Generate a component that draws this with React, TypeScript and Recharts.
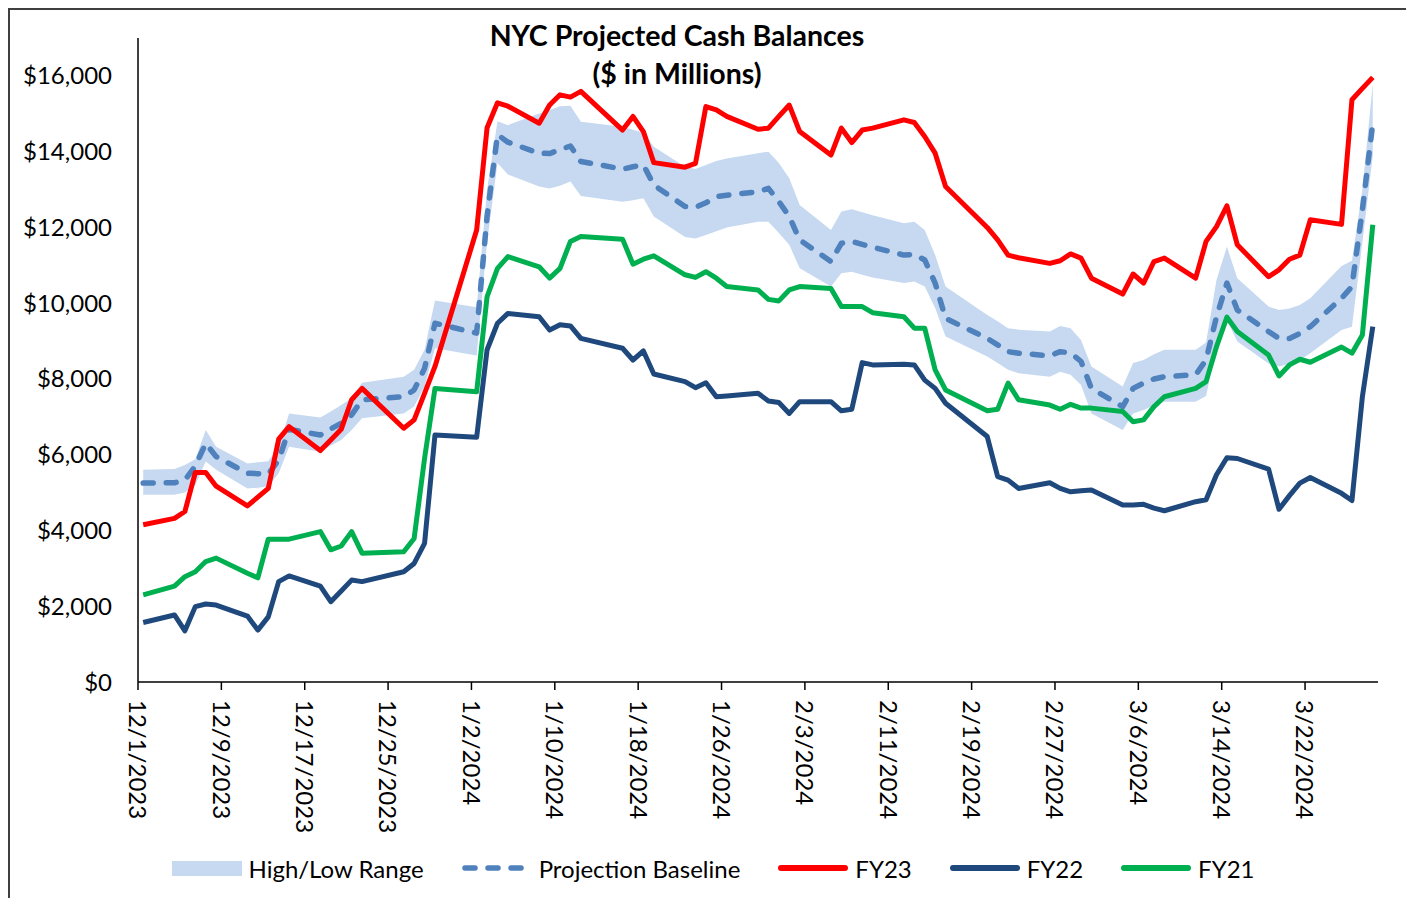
import React from 'react';
import { ComposedChart, Area, Line, XAxis, YAxis } from 'recharts';

// business days, 12/1/2023 - 3/28/2024
const dates = [
  '12/1/2023', '12/4/2023', '12/5/2023', '12/6/2023', '12/7/2023', '12/8/2023', '12/11/2023', '12/12/2023', '12/13/2023', '12/14/2023',
  '12/15/2023', '12/18/2023', '12/19/2023', '12/20/2023', '12/21/2023', '12/22/2023', '12/26/2023', '12/27/2023', '12/28/2023', '12/29/2023',
  '1/2/2024', '1/3/2024', '1/4/2024', '1/5/2024', '1/8/2024', '1/9/2024', '1/10/2024', '1/11/2024', '1/12/2024', '1/16/2024',
  '1/17/2024', '1/18/2024', '1/19/2024', '1/22/2024', '1/23/2024', '1/24/2024', '1/25/2024', '1/26/2024', '1/29/2024', '1/30/2024', '1/31/2024',
  '2/1/2024', '2/2/2024', '2/5/2024', '2/6/2024', '2/7/2024', '2/8/2024', '2/9/2024', '2/12/2024', '2/13/2024', '2/14/2024',
  '2/15/2024', '2/16/2024', '2/20/2024', '2/21/2024', '2/22/2024', '2/23/2024', '2/26/2024', '2/27/2024', '2/28/2024', '2/29/2024',
  '3/1/2024', '3/4/2024', '3/5/2024', '3/6/2024', '3/7/2024', '3/8/2024', '3/11/2024', '3/12/2024', '3/13/2024', '3/14/2024',
  '3/15/2024', '3/18/2024', '3/19/2024', '3/20/2024', '3/21/2024', '3/22/2024', '3/25/2024', '3/26/2024', '3/27/2024', '3/28/2024',
];

const fy23 = [
  4150, 4320, 4500, 5530, 5530, 5170, 4650, 4880, 5110, 6410, 6740, 6110, 6390, 6670, 7450, 7750, 6700, 6920, 7620, 8330,
  11930, 14630, 15290, 15200, 14750, 15230, 15500, 15440, 15590, 14570, 14930, 14530, 13710, 13590, 13690, 15190, 15100, 14930, 14590, 14620, 14930,
  15230, 14530, 13910, 14620, 14240, 14570, 14620, 14840, 14770, 14400, 13960, 13080, 12000, 11670, 11270, 11200, 11050, 11120, 11300, 11190,
  10660, 10240, 10770, 10530, 11100, 11190, 10660, 11630, 12020, 12570, 11540, 10700, 10880, 11160, 11270, 12200, 12080, 15370, 15670, 15960,
];

const fy22 = [
  1570, 1770, 1350, 1990, 2060, 2030, 1740, 1370, 1720, 2650, 2800, 2530, 2120, 2400, 2690, 2650, 2910, 3130, 3660, 6520,
  6460, 8770, 9470, 9730, 9640, 9290, 9430, 9400, 9070, 8810, 8500, 8740, 8130, 7930, 7770, 7900, 7530, 7550, 7620, 7420, 7380,
  7090, 7400, 7400, 7160, 7200, 8430, 8370, 8390, 8370, 7970, 7750, 7360, 6480, 5420, 5330, 5110, 5260, 5110, 5020, 5050,
  5070, 4670, 4670, 4690, 4590, 4520, 4760, 4810, 5470, 5920, 5900, 5620, 4560, 4920, 5250, 5400, 4980, 4790, 7530, 9380,
];

const fy21 = [
  2300, 2530, 2780, 2910, 3180, 3270, 2870, 2750, 3770, 3770, 3770, 3970, 3490, 3590, 3970, 3400, 3440, 3790, 5900, 7750,
  7660, 10170, 10920, 11230, 10960, 10660, 10920, 11630, 11760, 11690, 11030, 11160, 11250, 10750, 10680, 10830, 10660, 10440, 10350, 10100, 10060,
  10350, 10440, 10390, 9910, 9910, 9910, 9750, 9640, 9340, 9340, 8240, 7710, 7160, 7200, 7890, 7450, 7310, 7200, 7330, 7230,
  7230, 7140, 6870, 6920, 7270, 7530, 7750, 7930, 8850, 9630, 9250, 8630, 8080, 8370, 8520, 8440, 8840, 8680, 9160, 12070,
];

const baseline = [
  5250, 5260, 5330, 5700, 6300, 5950, 5510, 5500, 5490, 5860, 6670, 6520, 6680, 6830, 7050, 7450, 7530, 7710, 8280, 9470,
  9210, 12300, 14450, 14250, 13960, 13950, 14050, 14150, 13740, 13540, 13600, 13650, 13120, 12550, 12530, 12650, 12810, 12850, 12940, 13030, 12680,
  12290, 11670, 11100, 11580, 11630, 11550, 11480, 11270, 11290, 11140, 10530, 9600, 9070, 8900, 8720, 8680, 8610, 8720, 8690, 8460,
  7750, 7270, 7750, 7890, 8000, 8060, 8110, 8500, 9640, 10530, 9820, 9250, 9070, 9070, 9200, 9380, 10130, 10440, 12460, 14750,
];

const rangeHigh = [
  5600, 5620, 5730, 5880, 6650, 6210, 5770, 5800, 5830, 6210, 7090, 6980, 7140, 7310, 7490, 7900, 8060, 8240, 8770, 10070,
  9890, 13000, 14800, 14700, 15010, 15100, 15200, 15210, 14790, 14660, 14580, 14490, 14130, 13600, 13540, 13650, 13750, 13820, 13960, 14000, 13700,
  13300, 12590, 11930, 12420, 12480, 12400, 12320, 12110, 12150, 11930, 11270, 10440, 9690, 9520, 9340, 9300, 9250, 9400, 9340, 9030,
  8330, 7800, 8420, 8500, 8650, 8770, 8770, 8960, 10610, 11490, 10660, 9910, 9820, 9860, 9950, 10130, 10980, 11120, 13000, 15800,
];

const rangeLow = [
  4940, 4940, 5000, 5200, 5820, 5600, 5110, 5130, 5160, 5510, 6210, 6080, 6240, 6390, 6650, 6960, 7090, 7270, 7800, 8810,
  8620, 11600, 13700, 13400, 13080, 13030, 13100, 13210, 12830, 12680, 12720, 12770, 12290, 11750, 11710, 11800, 11900, 12000, 12150, 12150, 11850,
  11540, 10920, 10440, 10790, 10830, 10750, 10680, 10530, 10570, 10440, 9870, 9120, 8590, 8420, 8240, 8150, 8060, 8190, 8110, 7840,
  7090, 6650, 7090, 7180, 7300, 7400, 7400, 7550, 8850, 9550, 8990, 8410, 8330, 8400, 8500, 8680, 9290, 9380, 11600, 13900,
];

const tickLabels = [
  '12/1/2023', '12/9/2023', '12/17/2023', '12/25/2023', '1/2/2024', '1/10/2024', '1/18/2024', '1/26/2024',
  '2/3/2024', '2/11/2024', '2/19/2024', '2/27/2024', '3/6/2024', '3/14/2024', '3/22/2024',
];
const yTicks = [0, 2000, 4000, 6000, 8000, 10000, 12000, 14000, 16000];

const FONT = 'Lato, "Liberation Sans", sans-serif';
const START = Date.UTC(2023, 11, 1);
const dayIndex = (s: string) => {
  const [m, d, y] = s.split('/').map(Number);
  return Math.round((Date.UTC(y, m - 1, d) - START) / 86400000);
};

// excel date axis: each day's point sits in the middle of its slot
const data = dates.map((date, i) => ({
  x: dayIndex(date) + 0.5,
  fy23: fy23[i],
  fy22: fy22[i],
  fy21: fy21[i],
  baseline: baseline[i],
  range: [rangeLow[i], rangeHigh[i]],
}));

const tickDays = tickLabels.map(dayIndex);
const labelFor = (v: number) => tickLabels[tickDays.indexOf(v)] ?? '';

const DateTick = ({ x, y, payload }: any) => (
  <text
    transform={`translate(${x},${y}) rotate(90)`}
    textAnchor="start"
    dy="0.36em"
    fontSize={24}
    fontFamily={FONT}
    fill="#000"
  >
    {labelFor(payload.value)}
  </text>
);

const legendItems = [
  { label: 'High/Low Range', kind: 'band', color: '#C6D9F1' },
  { label: 'Projection Baseline', kind: 'dash', color: '#4F81BD' },
  { label: 'FY23', kind: 'line', color: '#FF0000' },
  { label: 'FY22', kind: 'line', color: '#1F497D' },
  { label: 'FY21', kind: 'line', color: '#00B050' },
];

const Swatch = ({ kind, color }: { kind: string; color: string }) => (
  <svg width={70} height={20} style={{ display: 'block' }}>
    {kind === 'band' ? (
      <rect x={0} y={3} width={70} height={15} fill={color} />
    ) : (
      <line
        x1={3}
        x2={67}
        y1={10}
        y2={10}
        stroke={color}
        strokeWidth={kind === 'dash' ? 5.5 : 6}
        strokeLinecap="round"
        strokeDasharray={kind === 'dash' ? '10 13' : undefined}
      />
    )}
  </svg>
);

const App: React.FC = () => {
  return (
    <div
      style={{
        position: 'relative',
        width: 1398,
        height: 888,
        border: '2px solid #3f3f3f',
        borderBottom: 'none',
        background: '#fff',
        fontFamily: FONT,
        color: '#000',
      }}
    >
      <ComposedChart width={1398} height={888} data={data} margin={{ top: 28, right: 30, bottom: 66, left: 0 }}>
        <XAxis
          type="number"
          dataKey="x"
          domain={[0, 119]}
          ticks={tickDays}
          interval={0}
          allowDataOverflow
          height={150}
          tickSize={8}
          tickMargin={10}
          axisLine={{ stroke: '#000', strokeWidth: 1.5 }}
          tickLine={{ stroke: '#000', strokeWidth: 1.5 }}
          tick={(props: any) => <DateTick {...props} />}
        />
        <YAxis
          domain={[0, 17000]}
          ticks={yTicks}
          interval={0}
          allowDataOverflow
          width={128}
          axisLine={{ stroke: '#000', strokeWidth: 1.5 }}
          tickLine={false}
          tickSize={0}
          tickMargin={26}
          tick={{ fill: '#000', fontSize: 24, fontFamily: FONT }}
          tickFormatter={(v: number) => '$' + v.toLocaleString('en-US')}
        />
        <Area
          type="linear"
          dataKey="range"
          stroke="none"
          fill="#C6D9F1"
          fillOpacity={1}
          dot={false}
          activeDot={false}
          isAnimationActive={false}
        />
        <Line
          type="linear"
          dataKey="baseline"
          stroke="#4F81BD"
          strokeWidth={5.5}
          strokeDasharray="10 13"
          strokeLinecap="round"
          strokeLinejoin="round"
          dot={false}
          activeDot={false}
          isAnimationActive={false}
        />
        <Line type="linear" dataKey="fy23" stroke="#FF0000" strokeWidth={5} strokeLinejoin="round" dot={false} activeDot={false} isAnimationActive={false} />
        <Line type="linear" dataKey="fy22" stroke="#1F497D" strokeWidth={5} strokeLinejoin="round" dot={false} activeDot={false} isAnimationActive={false} />
        <Line type="linear" dataKey="fy21" stroke="#00B050" strokeWidth={5} strokeLinejoin="round" dot={false} activeDot={false} isAnimationActive={false} />
      </ComposedChart>

      <div
        style={{
          position: 'absolute',
          top: 6,
          left: 0,
          width: 1334,
          textAlign: 'center',
          fontWeight: 700,
          fontSize: 28.5,
          lineHeight: '38px',
        }}
      >
        NYC Projected Cash Balances
        <br />
        ($ in Millions)
      </div>

      <div
        style={{
          position: 'absolute',
          top: 843,
          left: 0,
          width: 1406,
          height: 30,
          display: 'flex',
          justifyContent: 'center',
          alignItems: 'center',
          gap: 38,
          fontSize: 24,
        }}
      >
        {legendItems.map(item => (
          <div key={item.label} style={{ display: 'flex', alignItems: 'center' }}>
            <Swatch kind={item.kind} color={item.color} />
            <span style={{ marginLeft: 7, whiteSpace: 'nowrap' }}>{item.label}</span>
          </div>
        ))}
      </div>
    </div>
  );
};

export default App;
